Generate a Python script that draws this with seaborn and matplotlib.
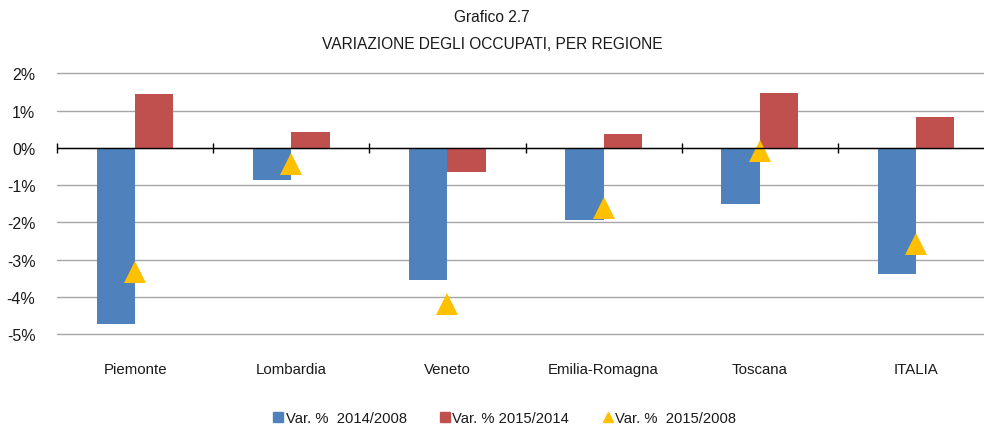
import matplotlib
matplotlib.use("Agg")
import matplotlib.pyplot as plt
import seaborn as sns
import pandas as pd
import numpy as np
from matplotlib.lines import Line2D
from matplotlib.ticker import FuncFormatter

regions = ["Piemonte", "Lombardia", "Veneto", "Emilia-Romagna", "Toscana", "ITALIA"]
var_2014_2008 = [-4.73, -0.86, -3.55, -1.95, -1.52, -3.39]
var_2015_2014 = [1.45, 0.43, -0.65, 0.36, 1.47, 0.83]
var_2015_2008 = [-3.34, -0.43, -4.19, -1.61, -0.08, -2.59]
series_names = ["Var. %  2014/2008", "Var. % 2015/2014", "Var. %  2015/2008"]
yticks = [2, 1, 0, -1, -2, -3, -4, -5]

sns.set_theme(style="white")
plt.rcParams["font.family"] = ["Liberation Sans", "DejaVu Sans"]

bars = pd.DataFrame({
    "region": regions * 2,
    "value": var_2014_2008 + var_2015_2014,
    "series": [series_names[0]] * len(regions) + [series_names[1]] * len(regions),
})
points = pd.DataFrame({"region": regions, "value": var_2015_2008})

blue, red, yellow = "#4F81BD", "#C0504D", "#FFC000"
txt = "#1a1a1a"

fig = plt.figure(figsize=(9.84, 4.27), dpi=100)
ax = fig.add_axes([57 / 984, (427 - 335) / 427, 937 / 984, 260.7 / 427])

sns.barplot(data=bars, x="region", y="value", hue="series", order=regions,
            hue_order=series_names[:2], palette=[blue, red], width=0.49,
            gap=0, saturation=1, ax=ax, legend=False, zorder=3, linewidth=0)
sns.pointplot(data=points, x="region", y="value", order=regions, color=yellow,
              markers="^", linestyle="none", errorbar=None, markersize=16.5,
              markeredgewidth=0, ax=ax, zorder=4)

ax.set_xlim(-0.5, len(regions) - 0.5)
ax.set_ylim(-5, 2)
ax.set_yticks(yticks)
ax.yaxis.set_major_formatter(FuncFormatter(lambda v, p: f"{int(round(v))}%"))
ax.grid(axis="y", color="#A6A6A6", linewidth=1.0, zorder=0)
for gl in ax.yaxis.get_gridlines():
    gl.set_clip_on(False)
ax.set_axisbelow(True)
for s in ax.spines.values():
    s.set_visible(False)
ax.tick_params(axis="y", length=0, pad=15.5, labelsize=11.5, labelcolor=txt)
ax.tick_params(axis="x", length=0, pad=20.5, labelsize=10.8, labelcolor=txt)
ax.set_xlabel("")
ax.set_ylabel("")

# zero axis line with category-boundary ticks
ax.axhline(0, color="black", linewidth=1.0, zorder=5)
bounds = np.arange(len(regions) + 1) - 0.5
ax.vlines(bounds, -0.13, 0.13, color="black", linewidth=1.0, zorder=5, clip_on=False)

fig.text(0.5, 0.958, "Grafico 2.7", ha="center", va="center", fontsize=11.2, color=txt)
fig.text(0.5, 0.895, "VARIAZIONE DEGLI OCCUPATI, PER REGIONE", ha="center", va="center",
         fontsize=11.2, color=txt)

handles = [
    Line2D([], [], marker="s", linestyle="none", color=blue, markersize=7.5),
    Line2D([], [], marker="s", linestyle="none", color=red, markersize=7.5),
    Line2D([], [], marker="^", linestyle="none", color=yellow, markersize=7.5),
]
fig.legend(handles, series_names, loc="center", bbox_to_anchor=(0.5117, 0.018), ncol=3,
           frameon=False, fontsize=10.6, handletextpad=0.0, columnspacing=2.12,
           handlelength=1.0, labelcolor=txt)

fig.savefig("out.png", dpi=100)
